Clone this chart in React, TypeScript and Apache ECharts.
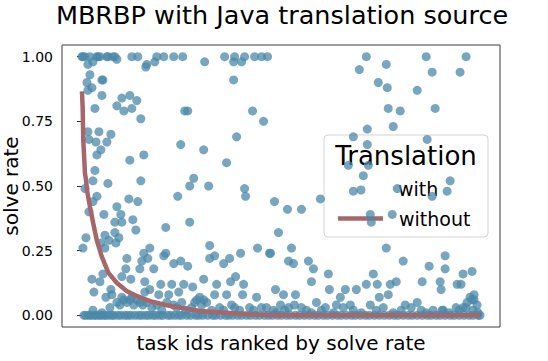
import React, { useEffect, useRef } from "react";
import * as echarts from "echarts";

// ---- data ----
const yTickValues = [0, 0.25, 0.5, 0.75, 1.0];

// "without" translation: solve rate of tasks sorted descending (rank, rate)
const withoutRanks = [0, 0.7, 1.3, 3, 4.2, 5.2, 8, 11.3, 14.7, 19.7, 26.4, 34.8, 44.8, 54.8, 68.2, 84.9, 98.2, 118.3, 145, 165, 198.5, 399];
const withoutRates = [0.866, 0.806, 0.68, 0.55, 0.52, 0.48, 0.42, 0.356, 0.293, 0.229, 0.165, 0.126, 0.094, 0.075, 0.055, 0.039, 0.03, 0.017, 0.01, 0.004, 0, 0];

// "with" translation: (rank, rate) points that are above zero
const withPoints: [number, number][] = [
  [0, 1], [1, 1], [3, 1], [8, 1], [15, 1], [16, 1], [18, 1], [25, 1], [26, 1], [31, 1], [33, 1], [35, 0.99], [50, 1], [56, 1], [65, 0.97], [73, 0.98], [75, 1], [82, 1], [92, 1], [101, 1], [123, 0.98], [143, 1], [153, 1], [160, 0.98], [163, 1], [173, 1], [180, 1], [186, 1], [285, 1], [345, 1], [385, 1],
  [6, 0.97], [11, 0.98], [64, 0.96], [152, 0.98], [278, 0.95], [305, 0.97], [351, 0.94], [379, 0.94], [297, 0.9], [306, 0.88], [336, 0.87], [307, 0.8], [319, 0.79], [354, 0.8], [286, 0.72], [312, 0.73],
  [8, 0.93], [5, 0.9], [20, 0.91], [21, 0.91], [10, 0.88], [6, 0.87], [152, 0.91],
  [20, 0.85], [40, 0.84], [48, 0.85], [55, 0.83], [35, 0.81], [13, 0.8], [42, 0.79], [50, 0.8], [59, 0.76], [103, 0.79], [106, 0.79], [171, 0.79], [182, 0.75],
  [6, 0.71], [17, 0.71], [29, 0.7], [7, 0.68], [14, 0.67], [25, 0.67], [155, 0.69], [19, 0.64], [15, 0.62], [99, 0.66], [122, 0.64], [62, 0.62], [48, 0.6], [145, 0.59], [13, 0.56], [11, 0.52], [26, 0.51], [59, 0.52], [112, 0.53], [108, 0.5], [127, 0.5], [163, 0.49], [3, 0.49],
  [272, 0.69], [286, 0.66], [346, 0.68], [267, 0.58], [282, 0.54], [287, 0.58], [369, 0.52], [272, 0.48], [316, 0.49], [366, 0.48], [351, 0.46], [289, 0.39], [290, 0.36], [311, 0.39],
  [193, 0.44], [206, 0.41], [220, 0.41], [239, 0.45], [197, 0.32], [189, 0.24], [210, 0.26], [207, 0.21], [212, 0.2], [227, 0.21], [232, 0.18], [247, 0.16], [230, 0.13], [248, 0.1], [194, 0.1], [202, 0.08], [214, 0.08], [264, 0.1], [275, 0.1], [285, 0.12], [296, 0.12], [292, 0.16], [305, 0.26], [322, 0.21], [309, 0.12], [315, 0.13], [307, 0.08], [298, 0.07], [259, 0.07], [235, 0.05], [199, 0.04], [341, 0.13], [348, 0.19], [364, 0.23], [364, 0.18], [359, 0.13], [360, 0.1], [376, 0.12], [380, 0.12], [382, 0.16], [391, 0.17], [389, 0.07], [393, 0.08], [386, 0.05], [375, 0.03], [336, 0.05], [324, 0.04], [289, 0.04], [269, 0.04], [255, 0.04], [244, 0.03], [220, 0.03], [207, 0.03], [192, 0.02], [362, 0.02], [392, 0.02], [397, 0.01],
  [164, 0.46], [96, 0.46], [15, 0.46], [11, 0.44], [7, 0.4], [47, 0.45], [56, 0.44], [35, 0.42], [22, 0.39], [39, 0.39], [33, 0.36], [40, 0.36], [51, 0.37], [54, 0.33], [84, 0.34], [108, 0.36], [23, 0.31], [33, 0.32], [37, 0.3], [27, 0.29], [34, 0.28], [19, 0.28], [4, 0.3], [1, 0.26], [23, 0.26], [128, 0.27], [176, 0.26], [188, 0.24], [159, 0.24], [133, 0.23], [128, 0.22], [148, 0.22], [142, 0.2], [99, 0.21], [92, 0.2], [106, 0.19], [84, 0.24], [82, 0.23], [68, 0.26], [62, 0.24], [66, 0.22], [60, 0.21], [45, 0.22], [58, 0.18], [44, 0.18], [72, 0.18], [21, 0.16], [40, 0.15], [49, 0.14], [10, 0.14], [18, 0.13], [63, 0.13], [79, 0.12], [90, 0.12], [102, 0.12], [122, 0.14], [135, 0.12], [111, 0.11], [149, 0.13], [154, 0.15], [162, 0.12], [12, 0.09], [29, 0.1], [30, 0.08], [24, 0.07], [68, 0.1], [63, 0.09], [77, 0.08], [87, 0.08], [97, 0.09], [133, 0.08], [145, 0.08], [161, 0.08], [175, 0.07], [28, 0.03], [40, 0.07], [48, 0.06], [58, 0.05], [85, 0.05], [115, 0.06], [122, 0.06], [113, 0.05], [153, 0.03], [180, 0.03], [11, 0.02], [20, 0.01],
  [35, 0.05], [38, 0.04], [42, 0.06], [45, 0.05], [50, 0.07], [52, 0.04], [55, 0.06], [61, 0.04], [65, 0.05], [70, 0.03], [75, 0.04], [80, 0.02], [92, 0.04], [95, 0.03], [100, 0.05], [104, 0.02], [110, 0.03], [118, 0.07], [120, 0.04], [125, 0.05], [130, 0.02], [138, 0.03], [142, 0.02], [150, 0.04], [158, 0.02], [168, 0.03], [172, 0.02], [185, 0.03], [195, 0.01], [203, 0.02], [213, 0.04], [225, 0.02], [230, 0.01], [240, 0.02], [252, 0.01], [262, 0.03], [272, 0.02], [280, 0.01], [295, 0.02], [302, 0.03], [312, 0.01], [320, 0.02], [330, 0.03], [340, 0.02], [345, 0.01], [352, 0.02], [368, 0.01], [378, 0.02], [385, 0.03], [391, 0.06], [393, 0.06], [396, 0.04], [382, 0.03], [361, 0.02],
];

// "with" translation: ranks of tasks whose solve rate is 0
const withZeroRanks = [2, 4, 7, 9, 12, 14, 17, 19, 22, 24, 27, 30, 32, 36, 39, 43, 46, 49, 53, 57, 60, 64, 67, 71, 74, 78, 81, 86, 89, 93, 97, 100, 105, 109, 114, 117, 121, 126, 131, 134, 139, 144, 147, 151, 156, 160, 165, 169, 174, 178, 183, 187, 191, 196, 200, 205, 209, 214, 218, 223, 228, 233, 237, 242, 246, 251, 256, 260, 265, 270, 274, 279, 284, 288, 293, 298, 303, 308, 313, 317, 322, 327, 331, 336, 341, 346, 350, 355, 359, 364, 369, 373, 378, 383, 388, 392, 397, 399];

const FONT = "DejaVu Sans";
const DOT = "#4a88a8";
const RED = "#a5676b";

export default function App() {
  const ref = useRef<HTMLDivElement>(null);
  useEffect(() => {
    if (!ref.current) return;
    const chart = echarts.init(ref.current, undefined, { renderer: "svg" });
    const scatterData = [
      ...withZeroRanks.map((r) => [r, 0]),
      ...withPoints,
    ];
    const lineData = withoutRanks.map((r, i) => [r, withoutRates[i]]);
    chart.setOption({
      animation: false,
      textStyle: { fontFamily: FONT },
      grid: {
        left: 62, right: 48, top: 45, bottom: 34,
        show: true, borderColor: "#3a3a3a", borderWidth: 1, backgroundColor: "transparent",
      },
      xAxis: {
        type: "value", min: -20, max: 419,
        name: "task ids ranked by solve rate",
        nameLocation: "middle", nameGap: 6,
        nameTextStyle: { fontFamily: FONT, fontSize: 20, color: "#000", verticalAlign: "top" },
        axisLine: { show: false }, axisTick: { show: false }, axisLabel: { show: false }, splitLine: { show: false },
      },
      yAxis: {
        type: "value", min: -0.045, max: 1.045,
        axisLine: { show: false },
        axisTick: { show: true, length: 5, inside: false, lineStyle: { color: "#333" }, customValues: yTickValues },
        axisLabel: {
          show: true, margin: 9, fontFamily: FONT, fontSize: 14, color: "#000",
          customValues: yTickValues,
          formatter: (v: number) => v.toFixed(2),
        },
        splitLine: { show: false },
      },
      series: [
        {
          name: "with", type: "scatter", data: scatterData, symbolSize: 9,
          itemStyle: { color: DOT, opacity: 0.75 },
          z: 2,
        },
        {
          name: "without", type: "line", data: lineData, showSymbol: false, symbol: "none",
          lineStyle: { color: RED, width: 4.5 }, itemStyle: { color: RED }, z: 3,
        },
      ],
      graphic: [
        { type: "text", x: 282, y: 15, style: { text: "MBRBP with Java translation source", font: `25.5px "${FONT}"`, fill: "#000", align: "center", verticalAlign: "middle" } },
        { type: "text", x: 11, y: 186, rotation: Math.PI / 2, style: { text: "solve rate", font: `20px "${FONT}"`, fill: "#000", align: "center", verticalAlign: "middle" } },
        {
          type: "group", z: 100,
          children: [
            { type: "rect", shape: { x: 324, y: 135, width: 164, height: 102, r: 4 }, style: { fill: "rgba(255,255,255,0.8)", stroke: "#d3d3d3", lineWidth: 1 } },
            { type: "text", x: 406, y: 156, style: { text: "Translation", font: `26px "${FONT}"`, fill: "#000", align: "center", verticalAlign: "middle" } },
            { type: "circle", shape: { cx: 361, cy: 190, r: 4.5 }, style: { fill: DOT, opacity: 0.75 } },
            { type: "text", x: 398, y: 188.5, style: { text: "with", font: `19px "${FONT}"`, fill: "#000", align: "left", verticalAlign: "middle" } },
            { type: "line", shape: { x1: 338, y1: 218.5, x2: 383, y2: 218.5 }, style: { stroke: RED, lineWidth: 4.5 } },
            { type: "text", x: 399, y: 218.5, style: { text: "without", font: `19px "${FONT}"`, fill: "#000", align: "left", verticalAlign: "middle" } },
          ],
        },
      ],
    });
    return () => chart.dispose();
  }, []);
  return <div ref={ref} style={{ width: 548, height: 361, position: "absolute", left: 0, top: 0 }} />;
}
